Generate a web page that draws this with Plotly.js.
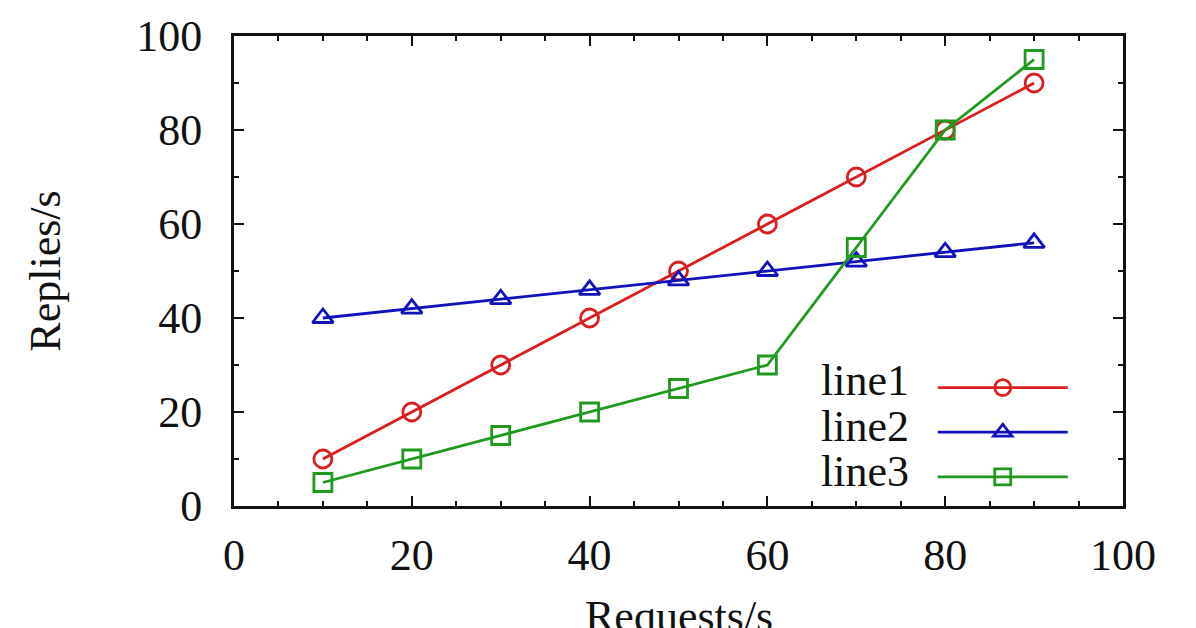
<!DOCTYPE html>
<html>
<head>
<meta charset="utf-8">
<script src="https://cdn.plot.ly/plotly-3.0.1.min.js"></script>
<style>
  html, body { margin: 0; padding: 0; background: #fff; }
  #plot { width: 1196px; height: 628px; }
</style>
</head>
<body>
<div id="plot"></div>
<script>
// data
var requests = [10, 20, 30, 40, 50, 60, 70, 80, 90];
var line1 = [10, 20, 30, 40, 50, 60, 70, 80, 90];
var line2 = [40, 42, 44, 46, 48, 50, 52, 54, 56];
var line3 = [5, 10, 15, 20, 25, 30, 55, 80, 95];
var seriesNames = ['line1', 'line2', 'line3'];
var xTitle = 'Requests/s';
var yTitle = 'Replies/s';

var colors = ['#d91f1f', '#1212bc', '#1f9a1f'];
var symbols = ['circle-open', 'triangle-up-open', 'square-open'];
var seriesValues = [line1, line2, line3];

var font = 'Liberation Serif, Times New Roman, serif';
var fontSize = 44;

var data = [];
for (var i = 0; i < seriesValues.length; i++) {
	data.push({
		type: 'scatter',
		mode: 'lines+markers',
		x: requests,
		y: seriesValues[i],
		name: '',
		line: {color: colors[i], width: 2.8},
		marker: {symbol: symbols[i], size: 18, color: colors[i], line: {width: 2.8, color: colors[i]}}
	});
}

// legend labels sit left of the samples, so they are drawn as annotations
var legendRows = [0.266, 0.17, 0.074];
var annotations = [];
for (var k = 0; k < seriesNames.length; k++) {
	annotations.push({
		text: seriesNames[k],
		xref: 'paper', yref: 'paper',
		x: 0.762, y: legendRows[k],
		xanchor: 'right', yanchor: 'middle',
		showarrow: false,
		font: {family: font, size: fontSize, color: '#111'}
	});
}

// x title runs off the bottom edge in the original, the axis title
// would be kept inside the margin, so it goes in as an annotation
annotations.push({
	text: xTitle,
	xref: 'paper', yref: 'paper',
	x: 0.5, y: -0.178,
	xanchor: 'center', yanchor: 'top',
	showarrow: false,
	font: {family: font, size: fontSize, color: '#111'}
});

function axis(title, extra) {
	var a = {
		range: [0, 100],
		dtick: 20,
		tick0: 0,
		ticks: 'inside',
		ticklen: 10,
		tickwidth: 2,
		tickcolor: '#111',
		minor: {dtick: 10, ticks: 'inside', ticklen: 5, tickwidth: 2, tickcolor: '#111', showgrid: false},
		showline: true,
		linecolor: '#111',
		linewidth: 3,
		mirror: 'allticks',
		showgrid: false,
		zeroline: false,
		tickfont: {family: font, size: fontSize, color: '#111'},
		title: {text: title, font: {family: font, size: fontSize, color: '#111'}}
	};
	for (var key in extra) {
		a[key] = extra[key];
	}
	return a;
}

var layout = {
	width: 1196,
	height: 628,
	margin: {l: 234, r: 73, t: 36, b: 122},
	paper_bgcolor: '#fff',
	plot_bgcolor: '#fff',
	showlegend: true,
	legend: {
		x: 0.786, y: 0.31,
		xanchor: 'left', yanchor: 'top',
		bgcolor: 'rgba(0,0,0,0)',
		itemwidth: 130,
		font: {family: font, size: 32},
		tracegroupgap: 0
	},
	xaxis: axis('', {
		minor: {dtick: 5, ticks: 'inside', ticklen: 5, tickwidth: 2, tickcolor: '#111', showgrid: false},
		ticklabelstandoff: 8
	}),
	yaxis: axis(yTitle, {
		ticklabelstandoff: 20,
		title: {text: yTitle, standoff: 62, font: {family: font, size: fontSize, color: '#111'}}
	}),
	annotations: annotations
};

Plotly.newPlot('plot', data, layout, {displayModeBar: false, staticPlot: true});
</script>
</body>
</html>
